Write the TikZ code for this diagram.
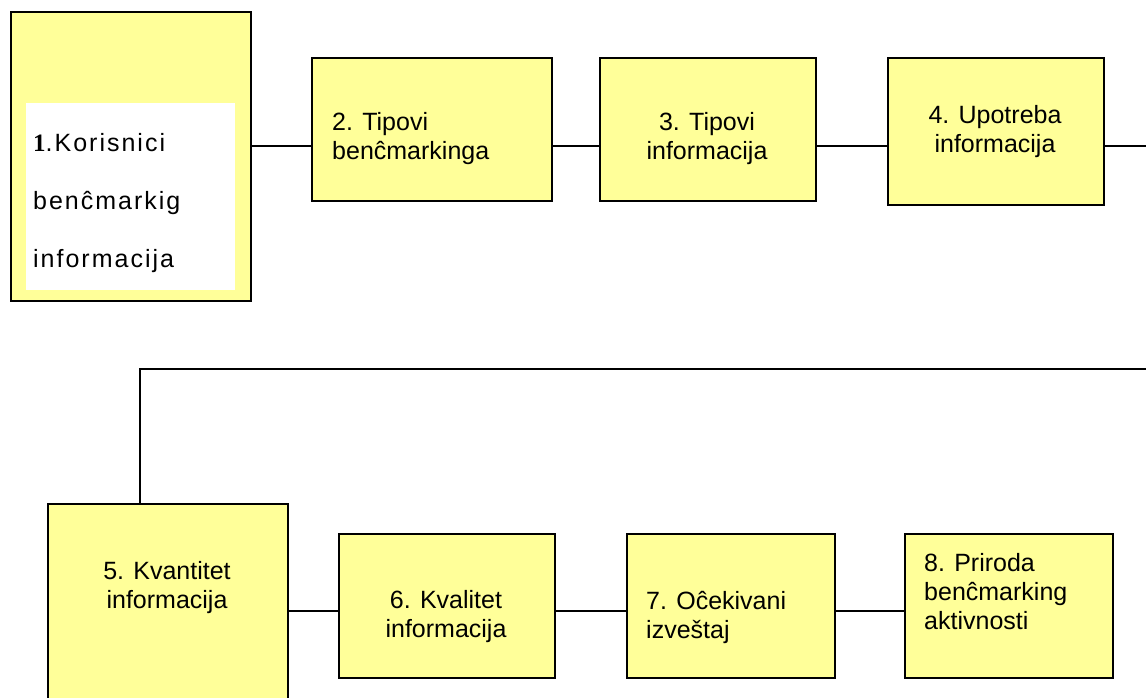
\documentclass[tikz,border=0pt]{standalone}
\usepackage{fontspec}
\setmainfont{Liberation Sans}
\newfontfamily\numfont{Liberation Serif}
\definecolor{boxyellow}{HTML}{FFFF99}
\begin{document}
\begin{tikzpicture}[x=1pt, y=-1pt,
  box/.style={draw, line width=1.7pt, fill=boxyellow, inner sep=0pt, anchor=north west},
  lbl/.style={inner sep=0pt, font=\fontsize{25}{29}\selectfont},
  link/.style={line width=1.7pt}]
\clip (0,0) rectangle (1146,698);
% top row
\node[box, minimum width=240, minimum height=289] (k1) at (10,11) {};
\node[fill=white, inner sep=0pt, anchor=north west, minimum width=209, minimum height=187] (k1in) at (26,103) {};
\node[box, minimum width=240, minimum height=143] (k2) at (311,57) {};
\node[box, minimum width=216, minimum height=143] (k3) at (599,57) {};
\node[box, minimum width=216, minimum height=147] (k4) at (887,57) {};
% bottom row
\node[box, minimum width=240, minimum height=240] (k5) at (47,503) {};
\node[box, minimum width=216, minimum height=144] (k6) at (338,533) {};
\node[box, minimum width=208, minimum height=144] (k7) at (626,533) {};
\node[box, minimum width=208, minimum height=144] (k8) at (904,533) {};
% texts
\node[lbl, anchor=west, align=left, font=\fontsize{25}{58}\selectfont\addfontfeature{LetterSpace=8}] (t1) at (33,203) {{\numfont\bfseries 1}.Korisnici\\benĉmarkig\\informacija};
\node[lbl, anchor=west, align=left] (t2) at (332,139) {2. Tipovi\\benĉmarkinga};
\node[lbl, align=center] (t3) at (707,139) {3. Tipovi\\informacija};
\node[lbl, align=center] (t4) at (995,132) {4. Upotreba\\informacija};
\node[lbl, align=center] (t5) at (167,588) {5. Kvantitet\\informacija};
\node[lbl, align=center] (t6) at (446,617) {6. Kvalitet\\informacija};
\node[lbl, anchor=west, align=left] (t7) at (646,617) {7. Oĉekivani\\izveštaj};
\node[lbl, anchor=west, align=left] (t8) at (924,592) {8. Priroda\\benĉmarking\\aktivnosti};
% connectors
\coordinate (row1) at (0,146);
\coordinate (row2) at (0,611);
\coordinate (redge) at (1146,146);
\coordinate (turn) at (140,369);
\coordinate (rturn) at (1146,369);
\draw[link] (k1.east |- row1) -- (k2.west |- row1);
\draw[link] (k2.east |- row1) -- (k3.west |- row1);
\draw[link] (k3.east |- row1) -- (k4.west |- row1);
\draw[link] (k4.east |- row1) -- (redge);
\draw[link] (rturn) -- (turn) -- (turn |- k5.north);
\draw[link] (k5.east |- row2) -- (k6.west |- row2);
\draw[link] (k6.east |- row2) -- (k7.west |- row2);
\draw[link] (k7.east |- row2) -- (k8.west |- row2);
\end{tikzpicture}
\end{document}
